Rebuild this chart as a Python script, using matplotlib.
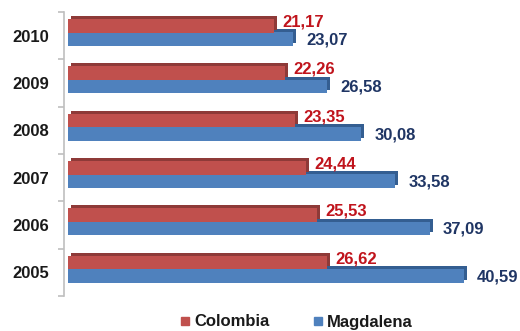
import matplotlib
matplotlib.use("Agg")
import matplotlib.pyplot as plt
import matplotlib.transforms as mtransforms
from matplotlib.lines import Line2D
import numpy as np

years = ["2005", "2006", "2007", "2008", "2009", "2010"]
colombia = [26.62, 25.53, 24.44, 23.35, 22.26, 21.17]
magdalena = [40.59, 37.09, 33.58, 30.08, 26.58, 23.07]
series_names = ["Colombia", "Magdalena"]

RED = "#C0504D"
RED_D = "#8E3A38"
BLUE = "#4F81BD"
BLUE_D = "#345E91"
RED_TXT = "#C0141C"
BLUE_TXT = "#1F3564"

plt.rcParams["font.family"] = ["Liberation Sans", "DejaVu Sans"]

W, H = 520, 331
fig = plt.figure(figsize=(W / 100, H / 100), dpi=100)
left_px, right_px = 67.5, 516.5
top_px, bot_px = 12, 296
ax = fig.add_axes([left_px / W, 1 - bot_px / H, (right_px - left_px) / W, (bot_px - top_px) / H])

y = np.arange(len(years))
bh = 0.29
red_c = y + 0.205
blue_c = y - 0.075

depth = mtransforms.offset_copy(ax.transData, fig=fig, x=3, y=3, units="dots")

# depth faces (drawn behind, shifted up-right)
ax.barh(blue_c, magdalena, height=bh, color=BLUE_D, transform=depth, zorder=1, linewidth=0)
ax.barh(red_c, colombia, height=bh, color=RED_D, transform=depth, zorder=1, linewidth=0)
# front faces
ax.barh(blue_c, magdalena, height=bh, color=BLUE, zorder=3, linewidth=0)
ax.barh(red_c, colombia, height=bh, color=RED, zorder=3, linewidth=0)

for yi, v in zip(y, colombia):
    ax.annotate(f"{v:.2f}".replace(".", ","), (v, yi + 0.29), xytext=(6, 0),
                textcoords="offset points", va="center", ha="left",
                fontsize=12, fontweight="bold", color=RED_TXT)
for yi, v in zip(y, magdalena):
    ax.annotate(f"{v:.2f}".replace(".", ","), (v, yi - 0.09), xytext=(9.5, 0),
                textcoords="offset points", va="center", ha="left",
                fontsize=12, fontweight="bold", color=BLUE_TXT)

ax.set_xlim(0, 46)
ax.set_ylim(-0.5, len(years) - 0.5)

for s in ["top", "right", "bottom"]:
    ax.spines[s].set_visible(False)
ax.spines["left"].set_position(("outward", 2.5))
ax.spines["left"].set_color("#BFBFBF")
ax.spines["left"].set_linewidth(1.2)

ax.set_xticks([])
ax.set_yticks(np.arange(-0.5, len(years), 1.0))
ax.set_yticklabels([])
ax.tick_params(axis="y", which="major", length=4, color="#BFBFBF", width=1.2)
ax.set_yticks(y, minor=True)
ax.set_yticklabels(years, minor=True, fontsize=12, fontweight="bold", color="#1A1A1A")
ax.tick_params(axis="y", which="minor", length=0, pad=11)

handles = [Line2D([], [], marker="s", linestyle="none", markersize=5.5, color=RED),
           Line2D([], [], marker="s", linestyle="none", markersize=5.5, color=BLUE)]
leg = fig.legend(handles, series_names, loc="center", bbox_to_anchor=(297 / W, 1 - 322 / H),
                 ncol=2, frameon=False, handlelength=0.4, handletextpad=0.35, columnspacing=2.7,
                 prop={"weight": "bold", "size": 12})
for t in leg.get_texts():
    t.set_color("#1A1A1A")

fig.savefig("out.png", dpi=100)
